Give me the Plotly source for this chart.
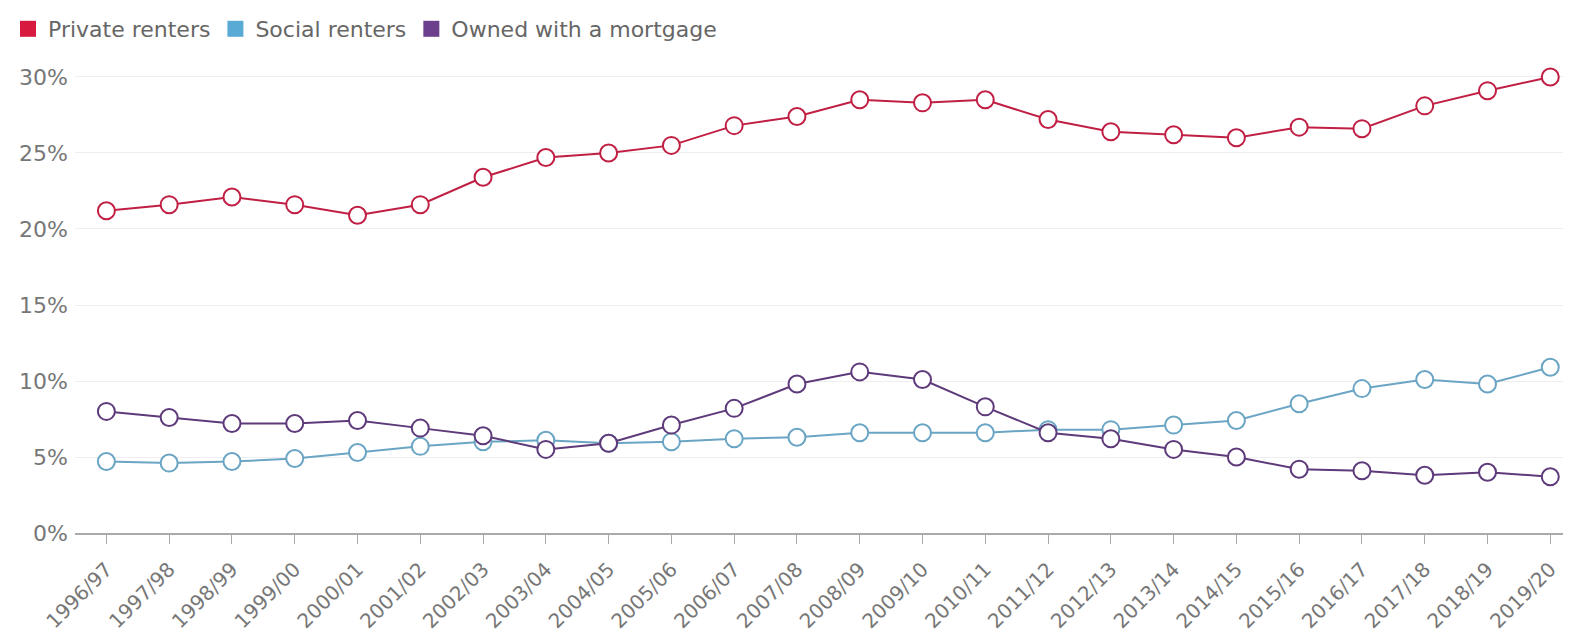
import plotly.graph_objects as go

years = ["1996/97", "1997/98", "1998/99", "1999/00", "2000/01", "2001/02", "2002/03",
         "2003/04", "2004/05", "2005/06", "2006/07", "2007/08", "2008/09", "2009/10",
         "2010/11", "2011/12", "2012/13", "2013/14", "2014/15", "2015/16", "2016/17",
         "2017/18", "2018/19", "2019/20"]

private_renters = [21.2, 21.6, 22.1, 21.6, 20.9, 21.6, 23.4, 24.7, 25.0, 25.5, 26.8, 27.4,
                   28.5, 28.3, 28.5, 27.2, 26.4, 26.2, 26.0, 26.7, 26.6, 28.1, 29.1, 30.0]
social_renters = [4.7, 4.6, 4.7, 4.9, 5.3, 5.7, 6.0, 6.1, 5.9, 6.0, 6.2, 6.3,
                  6.6, 6.6, 6.6, 6.8, 6.8, 7.1, 7.4, 8.5, 9.5, 10.1, 9.8, 10.9]
owned_mortgage = [8.0, 7.6, 7.2, 7.2, 7.4, 6.9, 6.4, 5.5, 5.9, 7.1, 8.2, 9.8,
                  10.6, 10.1, 8.3, 6.6, 6.2, 5.5, 5.0, 4.2, 4.1, 3.8, 4.0, 3.7]

series = [
    ("Private renters", private_renters, "#d7193f", "#c01f43"),
    ("Social renters", social_renters, "#5aaad6", "#6aa5c4"),
    ("Owned with a mortgage", owned_mortgage, "#6b3f8c", "#5e3a7a"),
]

y_ticks = [0, 5, 10, 15, 20, 25, 30]

fig = go.Figure()
for name, vals, col, lcol in series:
    fig.add_trace(go.Scatter(
        x=years, y=vals, mode="lines+markers", name=name, showlegend=False,
        line=dict(color=lcol, width=2),
        marker=dict(symbol="circle", size=17, color="white", line=dict(color=lcol, width=2)),
        cliponaxis=False,
    ))
for name, vals, col, lcol in series:
    fig.add_trace(go.Scatter(
        x=[None], y=[None], mode="markers", name=name, showlegend=True,
        marker=dict(symbol="square", size=20, color=col),
    ))

fig.update_layout(
    width=1563, height=630,
    margin=dict(l=67, r=0, t=62, b=105),
    paper_bgcolor="white", plot_bgcolor="white",
    font=dict(family="DejaVu Sans, sans-serif", color="#666666"),
    legend=dict(orientation="h", xref="container", yref="container", x=-0.0065, y=1.0,
                xanchor="left", yanchor="top", font=dict(size=22, color="#666666"),
                itemsizing="trace", tracegroupgap=0, itemwidth=30),
    xaxis=dict(
        type="category", categoryorder="array", categoryarray=years,
        range=[-0.5, 23.33], tickangle=-45, tickfont=dict(size=20, color="#777777"),
        showgrid=False, showline=True, linecolor="#aaaaaa", linewidth=1.5,
        ticks="outside", ticklen=9, tickcolor="#aaaaaa", tickwidth=1,
        ticklabelstandoff=6, automargin=False, fixedrange=True,
    ),
    yaxis=dict(
        range=[0, 30.46], tickvals=y_ticks, ticktext=[f"{v}%" for v in y_ticks],
        tickfont=dict(size=22, color="#777777"), showgrid=True, gridcolor="#eeeeee",
        gridwidth=1, zeroline=False, showline=False, ticks="", ticklabelstandoff=6,
        automargin=False,
    ),
)

fig.write_html("out.html")
